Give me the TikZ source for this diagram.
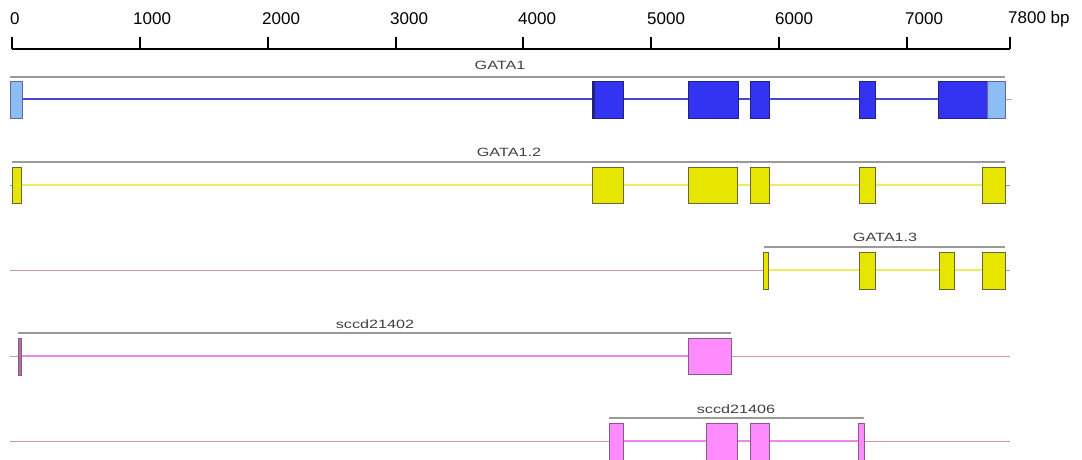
\documentclass[tikz,border=0pt]{standalone}
\usepackage{fontspec}
\setmainfont{Liberation Sans}
\definecolor{exblue}{HTML}{3333F2}
\definecolor{exlblue}{HTML}{8CBDF5}
\definecolor{exbluedk}{HTML}{22227A}
\definecolor{inblue}{HTML}{4848CC}
\definecolor{exyel}{HTML}{E6E600}
\definecolor{exyeldk}{HTML}{66663A}
\definecolor{inyel}{HTML}{EDED60}
\definecolor{expink}{HTML}{FF8CFF}
\definecolor{expinkdk}{HTML}{885A88}
\definecolor{expurp}{HTML}{B070B0}
\definecolor{inpink}{HTML}{EE88EE}
\definecolor{baseln}{HTML}{CC9A9A}
\definecolor{spangray}{HTML}{9A9A9A}
\tikzset{
  scaleline/.style={black,line width=2pt},
  baseline/.style={baseln,line width=1pt},
  spanline/.style={spangray,line width=2pt},
  intronB/.style={inblue,line width=1.5pt},
  intronY/.style={inyel,line width=1.5pt},
  intronP/.style={inpink,line width=1.5pt},
  exB/.style={fill=exblue,draw=exbluedk,line width=0.8pt},
  exLB/.style={fill=exlblue,draw=exbluedk!70,line width=0.8pt},
  exY/.style={fill=exyel,draw=exyeldk,line width=0.8pt},
  exP/.style={fill=expink,draw=expinkdk,line width=0.8pt},
  exPu/.style={fill=expurp,draw=expinkdk,line width=0.8pt},
  scalelbl/.style={anchor=west,inner sep=0pt,font=\fontsize{17}{17}\selectfont},
  genelbl/.style={inner sep=0pt,text=black!75,font=\fontsize{12}{12}\selectfont,xscale=1.35},
}
\begin{document}
\begin{tikzpicture}[x=1pt,y=-1pt]
\useasboundingbox (0,0) rectangle (1082,460);
% scale bar
\draw[scaleline] (12,49) -- (1010,49);
\foreach \t in {12,140,268,396,523,651,779,907,1010}
  \draw[scaleline] (\t,37) -- (\t,49);
\node[scalelbl] (s0) at (10,19) {0};
\node[scalelbl] (s1) at (133,19) {1000};
\node[scalelbl] (s2) at (262,19) {2000};
\node[scalelbl] (s3) at (390,19) {3000};
\node[scalelbl] (s4) at (518,19) {4000};
\node[scalelbl] (s5) at (647,19) {5000};
\node[scalelbl] (s6) at (775,19) {6000};
\node[scalelbl] (s7) at (905,19) {7000};
\node[scalelbl] (s8) at (1008,19) {7800 bp};

% ---------- GATA1 ----------
\draw[baseline] (10,99) -- (1012,99);
\draw[spanline] (10,77) -- (1005,77);
\node[genelbl] (g1) at (500,65) {GATA1};
\draw[intronB] (22,99) -- (987,99);
\draw[exLB] (10,81) rectangle (22,118);
\draw[exB] (592,81) rectangle (623,118);
\fill[exbluedk] (592,81) rectangle (595,118);
\draw[exB] (688,81) rectangle (738,118);
\draw[exB] (750,81) rectangle (769,118);
\draw[exB] (859,81) rectangle (875,118);
\draw[exB] (938,81) rectangle (987,118);
\draw[exLB] (987,81) rectangle (1005,118);

% ---------- GATA1.2 ----------
\draw[baseline,spangray] (10,185) -- (1010,185);
\draw[spanline] (12,162) -- (1005,162);
\node[genelbl] (g2) at (509,152) {GATA1.2};
\draw[intronY] (21,185) -- (982,185);
\draw[exY] (12,167) rectangle (21,203);
\draw[exY] (592,167) rectangle (623,203);
\draw[exY] (688,167) rectangle (737,203);
\draw[exY] (750,167) rectangle (769,203);
\draw[exY] (859,167) rectangle (875,203);
\draw[exY] (982,167) rectangle (1005,203);

% ---------- GATA1.3 ----------
\draw[baseline] (10,270) -- (1010,270);
\draw[spanline] (764,247) -- (1005,247);
\node[genelbl] (g3) at (885,237) {GATA1.3};
\draw[intronY] (768,270) -- (982,270);
\draw[exY] (763,252) rectangle (768,289);
\draw[exY] (859,252) rectangle (875,289);
\draw[exY] (939,252) rectangle (954,289);
\draw[exY] (982,252) rectangle (1005,289);

% ---------- sccd21402 ----------
\draw[baseline] (10,356) -- (1010,356);
\draw[spanline] (18,333) -- (731,333);
\node[genelbl] (g4) at (375,324) {sccd21402};
\draw[intronP] (21,356) -- (688,356);
\draw[exPu] (18,338) rectangle (21.5,375);
\draw[exP] (688,338) rectangle (731,374);

% ---------- sccd21406 ----------
\draw[baseline] (10,441) -- (1010,441);
\draw[spanline] (609,418) -- (864,418);
\node[genelbl] (g5) at (736,409) {sccd21406};
\draw[intronP] (623,441) -- (858,441);
\draw[exP] (609,423) rectangle (623,462);
\draw[exP] (706,423) rectangle (737,462);
\draw[exP] (750,423) rectangle (769,462);
\draw[exP] (858,423) rectangle (864,462);
\end{tikzpicture}
\end{document}
